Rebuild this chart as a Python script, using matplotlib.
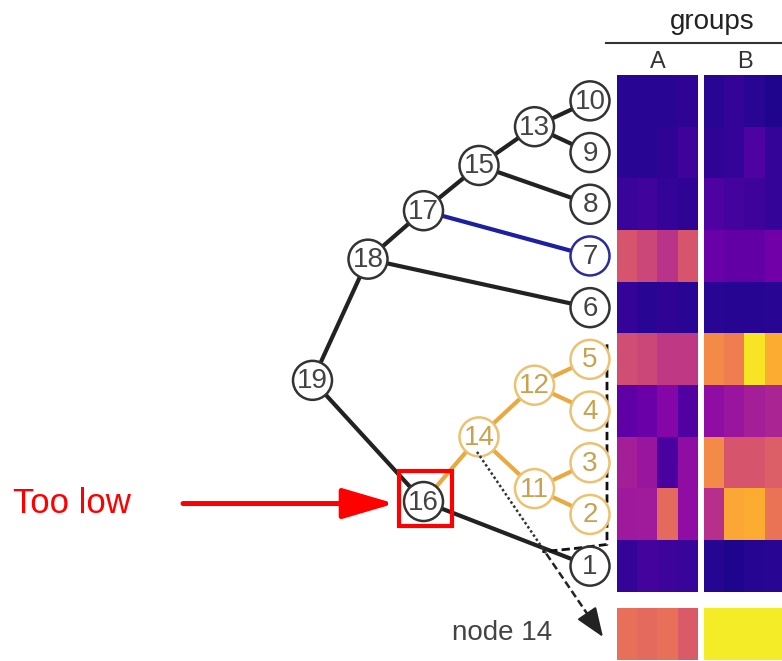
import matplotlib.pyplot as plt
from matplotlib.patches import Circle, Rectangle

plt.rcParams['font.family'] = ['Liberation Sans', 'DejaVu Sans']

# tree: leaves top to bottom, then merges (node, child1, child2)
leaf_order = [10, 9, 8, 7, 6, 5, 4, 3, 2, 1]
merges = [(11, 3, 2), (12, 5, 4), (13, 10, 9), (14, 12, 11), (15, 13, 8),
          (16, 14, 1), (17, 15, 7), (18, 17, 6), (19, 18, 16)]
orange_nodes = [2, 3, 4, 5, 11, 12, 14]
blue_nodes = [7]

# heatmap values (plasma scale 0..1), one row per leaf in leaf_order
heat_a = [
    [0.05, 0.05, 0.05, 0.06],
    [0.05, 0.05, 0.06, 0.09],
    [0.08, 0.10, 0.07, 0.06],
    [0.55, 0.50, 0.43, 0.55],
    [0.07, 0.05, 0.06, 0.05],
    [0.52, 0.50, 0.45, 0.45],
    [0.17, 0.20, 0.27, 0.14],
    [0.36, 0.33, 0.12, 0.30],
    [0.34, 0.35, 0.62, 0.30],
    [0.07, 0.11, 0.09, 0.08],
]
heat_b = [
    [0.05, 0.07, 0.05, 0.03],
    [0.06, 0.07, 0.13, 0.07],
    [0.13, 0.11, 0.09, 0.07],
    [0.20, 0.18, 0.18, 0.22],
    [0.05, 0.04, 0.04, 0.05],
    [0.72, 0.68, 0.95, 0.82],
    [0.30, 0.33, 0.36, 0.38],
    [0.72, 0.55, 0.55, 0.58],
    [0.42, 0.80, 0.82, 0.65],
    [0.04, 0.03, 0.04, 0.05],
]
node14_a = [[0.64, 0.62, 0.64, 0.57]]
node14_b = [[0.97, 0.97, 0.97, 0.97]]
group_labels = ['A', 'B']

# layout (pixel units)
TOP, ROW_H = 75, 51.7
X_LEAF, STEP = 590, 55.5
R = 19.5
HEAT_X = [(617, 698), (704, 785)]

fig = plt.figure(figsize=(7.82, 6.61), dpi=100)
ax = fig.add_axes([0, 0, 1, 1])

pos, height = {}, {}
for i, leaf in enumerate(leaf_order):
    pos[leaf] = (X_LEAF, TOP + ROW_H * (i + 0.5))
    height[leaf] = 0
for node, c1, c2 in merges:
    height[node] = max(height[c1], height[c2]) + 1
    pos[node] = (X_LEAF - STEP * height[node], (pos[c1][1] + pos[c2][1]) / 2)

# edges
for node, c1, c2 in merges:
    for c in (c1, c2):
        if c in orange_nodes:
            col, lw = '#E9A940', 3
        elif c in blue_nodes:
            col, lw = '#1E1EA0', 3
        else:
            col, lw = '#222222', 3
        ax.plot([pos[node][0], pos[c][0]], [pos[node][1], pos[c][1]],
                color=col, lw=lw, zorder=2, solid_capstyle='round')

# nodes
for node, (x, y) in pos.items():
    if node in orange_nodes:
        ec, tc = '#EBC271', '#C9A24F'
    elif node in blue_nodes:
        ec, tc = '#2B2B9E', '#444444'
    else:
        ec, tc = '#333333', '#444444'
    ax.add_patch(Circle((x, y), R, facecolor='white', edgecolor=ec, lw=1.8, zorder=3))
    ax.text(x, y + 1, str(node), ha='center', va='center', fontsize=20, color=tc, zorder=4)

# heatmaps
bottom = TOP + ROW_H * len(leaf_order)
for (x0, x1), vals, v14 in zip(HEAT_X, [heat_a, heat_b], [node14_a, node14_b]):
    ax.imshow(vals, cmap='plasma', vmin=0, vmax=1, extent=(x0, x1, bottom, TOP),
              aspect='auto', interpolation='nearest', zorder=1)
    ax.imshow(v14, cmap='plasma', vmin=0, vmax=1, extent=(x0, x1, 660, 608),
              aspect='auto', interpolation='nearest', zorder=1)

# header
ax.text(712, 22, 'groups', ha='center', va='center', fontsize=20, color='#222222')
ax.plot([606, 782], [43, 43], color='#333333', lw=1.5)
for (x0, x1), lab in zip(HEAT_X, group_labels):
    ax.text(x0 + 41, 62, lab, ha='center', va='center', fontsize=17, color='#333333')

# dashed bracket around leaves 5..2 and link toward the node 14 arrow
x14, y14 = pos[14]
start = (x14 - 2, y14 + 15)
tip = (603, 637)
t = 0.55
mid = (start[0] + t * (tip[0] - start[0]), start[1] + t * (tip[1] - start[1]))

y5, y2 = pos[5][1], pos[2][1]
ax.plot([607, 607, 575, mid[0] - 4], [y5 - 15, y2 + 30, y2 + 34, mid[1] - 2],
        color='#111111', lw=2, ls=(0, (3, 1.5)), zorder=2)

ax.plot([start[0], mid[0]], [start[1], mid[1]], color='#333333', lw=1.8,
        ls=(0, (1, 1)), zorder=5)
pre = (tip[0] - 0.08 * (tip[0] - start[0]), tip[1] - 0.08 * (tip[1] - start[1]))
ax.plot([mid[0], pre[0]], [mid[1], pre[1]], color='#222222', lw=1.8,
        ls=(0, (3, 1.5)), zorder=5)
ax.annotate('', xy=tip, xytext=pre,
            arrowprops=dict(arrowstyle='-|>,head_length=0.9,head_width=0.35',
                            color='#222222', lw=1.6, mutation_scale=20,
                            shrinkA=0, shrinkB=0), zorder=5)
ax.text(502, 633, 'node 14', ha='center', va='center', fontsize=20, color='#444444')

# "Too low" annotation
x16, y16 = pos[16]
ax.add_patch(Rectangle((x16 - 24.5, y16 - 30.5), 53, 55, fill=False,
                       edgecolor='red', lw=3, zorder=6))
ax.annotate('', xy=(x16 - 29, y16 + 2), xytext=(183, y16 + 2),
            arrowprops=dict(arrowstyle='-|>,head_length=1.6,head_width=0.47',
                            color='red', lw=3.6, mutation_scale=20,
                            shrinkA=0, shrinkB=0), zorder=6)
ax.text(13, y16 + 2, 'Too low', ha='left', va='center', fontsize=25, color='red')

ax.set_xlim(0, 782)
ax.set_ylim(661, 0)
ax.axis('off')

plt.savefig('out.png', dpi=100)
